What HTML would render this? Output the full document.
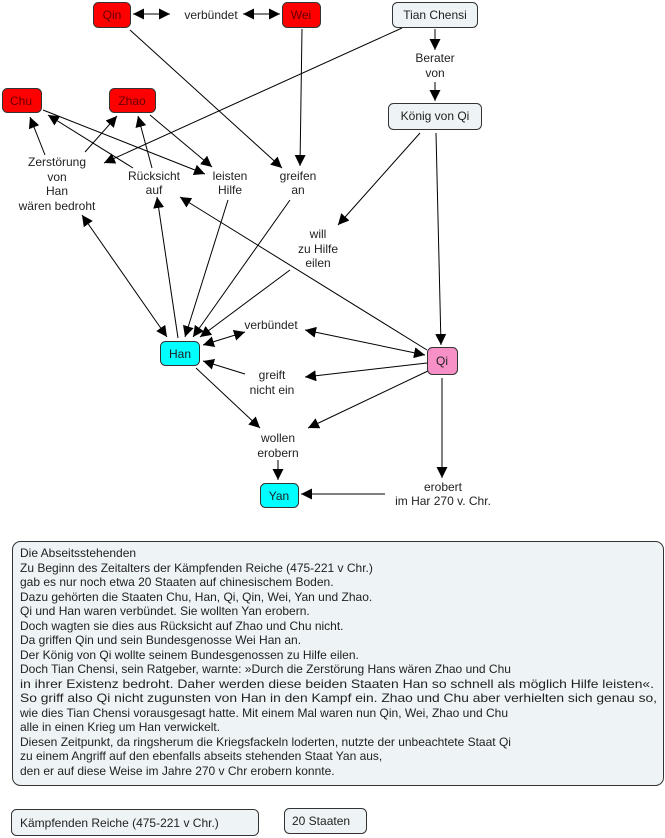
<!DOCTYPE html>
<html><head><meta charset="utf-8"><style>
body{margin:0;background:#fff;width:665px;height:838px;overflow:hidden;font-family:"Liberation Sans","DejaVu Sans",sans-serif;}
svg{position:absolute;left:0;top:0}
</style></head><body>
<svg width="665" height="838" viewBox="0 0 665 838" font-family="Liberation Sans, DejaVu Sans, sans-serif" font-size="12" fill="#222">
<defs><marker id="a" viewBox="0 0 10 10" refX="10" refY="5" markerWidth="11" markerHeight="11" markerUnits="userSpaceOnUse" orient="auto-start-reverse"><path d="M0,0L10,5L0,10z" fill="#000"/></marker></defs>
<g stroke="#000" stroke-width="1" fill="none">
<line x1="133" y1="14" x2="170" y2="14" marker-start="url(#a)" marker-end="url(#a)"/>
<line x1="243" y1="14" x2="280" y2="14" marker-start="url(#a)" marker-end="url(#a)"/>
<line x1="130" y1="30" x2="282" y2="168" marker-end="url(#a)"/>
<line x1="302" y1="29" x2="300" y2="166" marker-end="url(#a)"/>
<line x1="402" y1="28" x2="104" y2="163" marker-end="url(#a)"/>
<line x1="435" y1="29" x2="435" y2="50" marker-end="url(#a)"/>
<line x1="435" y1="82" x2="435" y2="101" marker-end="url(#a)"/>
<line x1="420" y1="133" x2="338" y2="225" marker-end="url(#a)"/>
<line x1="436" y1="133" x2="441" y2="345" marker-end="url(#a)"/>
<line x1="43" y1="110" x2="205" y2="174" marker-end="url(#a)"/>
<line x1="150" y1="115" x2="212" y2="167" marker-end="url(#a)"/>
<line x1="45" y1="155" x2="30" y2="117" marker-end="url(#a)"/>
<line x1="85" y1="152" x2="117" y2="116" marker-end="url(#a)"/>
<line x1="133" y1="168" x2="48" y2="115" marker-end="url(#a)"/>
<line x1="152" y1="168" x2="138" y2="116" marker-end="url(#a)"/>
<line x1="178" y1="338" x2="157" y2="197" marker-end="url(#a)"/>
<line x1="427" y1="350" x2="180" y2="197" marker-end="url(#a)"/>
<line x1="82" y1="215" x2="167" y2="337" marker-start="url(#a)" marker-end="url(#a)"/>
<line x1="228" y1="200" x2="185" y2="337" marker-end="url(#a)"/>
<line x1="290" y1="200" x2="193" y2="337" marker-end="url(#a)"/>
<line x1="290" y1="270" x2="200" y2="337" marker-end="url(#a)"/>
<line x1="203" y1="345" x2="245" y2="332" marker-start="url(#a)" marker-end="url(#a)"/>
<line x1="305" y1="330" x2="425" y2="355" marker-start="url(#a)" marker-end="url(#a)"/>
<line x1="427" y1="363" x2="305" y2="377" marker-end="url(#a)"/>
<line x1="245" y1="374" x2="203" y2="361" marker-end="url(#a)"/>
<line x1="196" y1="368" x2="260" y2="428" marker-end="url(#a)"/>
<line x1="430" y1="370" x2="308" y2="428" marker-end="url(#a)"/>
<line x1="278" y1="460" x2="278" y2="480" marker-end="url(#a)"/>
<line x1="442" y1="378" x2="442" y2="478" marker-end="url(#a)"/>
<line x1="385" y1="494" x2="301" y2="494" marker-end="url(#a)"/>
</g>
<g stroke="#333" stroke-width="1">
<rect x="93.5" y="2.5" width="37" height="25" rx="5" fill="#f00"/>
<rect x="282.5" y="2.5" width="38" height="25" rx="5" fill="#f00"/>
<rect x="392.5" y="2.5" width="85" height="25" rx="5" fill="#eef3f5"/>
<rect x="388.5" y="103.5" width="93" height="26" rx="5" fill="#eef3f5"/>
<rect x="2.5" y="88.5" width="39" height="24" rx="5" fill="#f00"/>
<rect x="109.5" y="88.5" width="46" height="24" rx="5" fill="#f00"/>
<rect x="160.5" y="341.5" width="39" height="24" rx="5" fill="#0ff"/>
<rect x="427.5" y="347.5" width="30" height="27" rx="5" fill="#f890c8"/>
<rect x="260.5" y="483.5" width="38" height="24" rx="5" fill="#0ff"/>
<rect x="12.5" y="541.5" width="651" height="244" rx="8" fill="#eef3f5"/>
<rect x="11.5" y="809.5" width="247" height="26" rx="5" fill="#eef3f5"/>
<rect x="284.5" y="808.5" width="82" height="25" rx="5" fill="#eef3f5"/>
</g>
<g text-anchor="middle">
<text x="112" y="19" fill="#600">Qin</text>
<text x="301" y="19" fill="#600">Wei</text>
<text x="435" y="19">Tian Chensi</text>
<text x="435" y="120">König von Qi</text>
<text x="21" y="105" fill="#600">Chu</text>
<text x="132" y="105" fill="#600">Zhao</text>
<text x="180" y="358">Han</text>
<text x="442" y="365">Qi</text>
<text x="279" y="500">Yan</text>
<text x="211" y="19">verbündet</text>
<text x="435" y="62">Berater</text><text x="435" y="77">von</text>
<text x="57" y="166">Zerstörung</text><text x="57" y="181">von</text><text x="57" y="195">Han</text><text x="57" y="210">wären bedroht</text>
<text x="154" y="180">Rücksicht</text><text x="154" y="194">auf</text>
<text x="230" y="180">leisten</text><text x="230" y="194">Hilfe</text>
<text x="298" y="180">greifen</text><text x="298" y="194">an</text>
<text x="318" y="238">will</text><text x="318" y="253">zu Hilfe</text><text x="318" y="267">eilen</text>
<text x="271" y="329">verbündet</text>
<text x="272" y="379">greift</text><text x="272" y="394">nicht ein</text>
<text x="278" y="442">wollen</text><text x="278" y="457">erobern</text>
<text x="443" y="491">erobert</text><text x="443" y="505">im Har 270 v. Chr.</text>
</g>
<g font-size="12">
<text x="20" y="557">Die Abseitsstehenden</text>
<text x="20" y="572">Zu Beginn des Zeitalters der Kämpfenden Reiche (475-221 v Chr.)</text>
<text x="20" y="586">gab es nur noch etwa 20 Staaten auf chinesischem Boden.</text>
<text x="20" y="601">Dazu gehörten die Staaten Chu, Han, Qi, Qin, Wei, Yan und Zhao.</text>
<text x="20" y="615">Qi und Han waren verbündet. Sie wollten Yan erobern.</text>
<text x="20" y="630">Doch wagten sie dies aus Rücksicht auf Zhao und Chu nicht.</text>
<text x="20" y="644">Da griffen Qin und sein Bundesgenosse Wei Han an.</text>
<text x="20" y="659">Der König von Qi wollte seinem Bundesgenossen zu Hilfe eilen.</text>
<text x="20" y="673">Doch Tian Chensi, sein Ratgeber, warnte: »Durch die Zerstörung Hans wären Zhao und Chu</text>
<text x="20" y="688" textLength="634" lengthAdjust="spacingAndGlyphs">in ihrer Existenz bedroht. Daher werden diese beiden Staaten Han so schnell als möglich Hilfe leisten«.</text>
<text x="20" y="702" textLength="637" lengthAdjust="spacingAndGlyphs">So griff also Qi nicht zugunsten von Han in den Kampf ein. Zhao und Chu aber verhielten sich genau so,</text>
<text x="20" y="717">wie dies Tian Chensi vorausgesagt hatte. Mit einem Mal waren nun Qin, Wei, Zhao und Chu</text>
<text x="20" y="731">alle in einen Krieg um Han verwickelt.</text>
<text x="20" y="746">Diesen Zeitpunkt, da ringsherum die Kriegsfackeln loderten, nutzte der unbeachtete Staat Qi</text>
<text x="20" y="760">zu einem Angriff auf den ebenfalls abseits stehenden Staat Yan aus,</text>
<text x="20" y="775">den er auf diese Weise im Jahre 270 v Chr erobern konnte.</text>
<text x="20" y="827">Kämpfenden Reiche (475-221 v Chr.)</text>
<text x="292" y="825">20 Staaten</text>
</g>
</svg>
</body></html>
